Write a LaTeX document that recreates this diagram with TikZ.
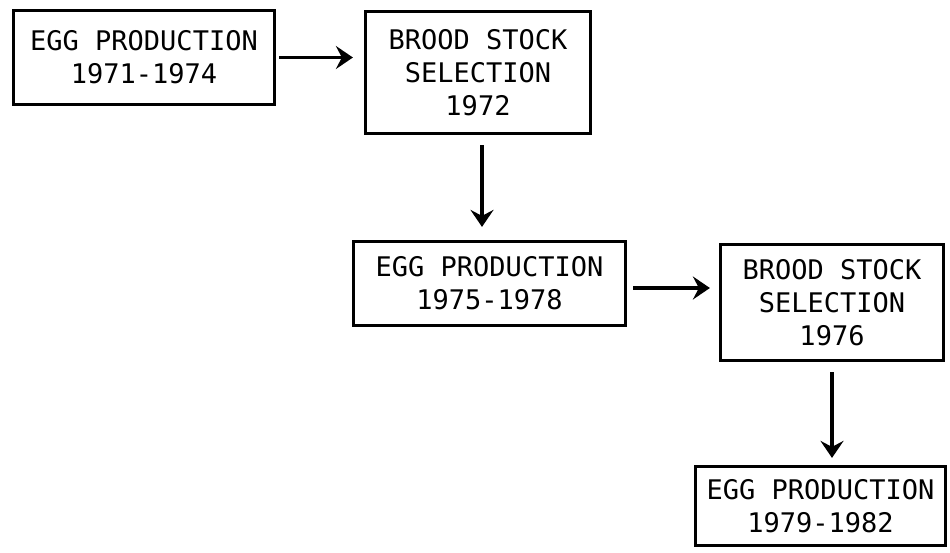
\documentclass[tikz,border=0pt]{standalone}
\usepackage{fontspec}
\setmonofont{DejaVu Sans Mono}
\usetikzlibrary{arrows.meta}
\begin{document}
\begin{tikzpicture}[x=1pt,y=-1pt,
  box/.style={draw, line width=3.2pt, inner sep=0pt, align=center,
    font=\ttfamily\fontsize{27}{33}\selectfont},
  flow/.style={line width=3.6pt, -{Stealth[length=17pt,width=23pt,inset=6pt]}}]
\useasboundingbox[fill=white] (0,0) rectangle (950,552);
\node[box, minimum width=261pt, minimum height=94pt] (e1) at (144,57.5) {EGG PRODUCTION\\1971-1974};
\node[box, minimum width=225pt, minimum height=122pt] (s1) at (478,72.5) {BROOD STOCK\\SELECTION\\1972};
\node[box, minimum width=272pt, minimum height=84pt] (e2) at (489.5,283.5) {EGG PRODUCTION\\1975-1978};
\node[box, minimum width=223pt, minimum height=116pt] (s2) at (832,302.5) {BROOD STOCK\\SELECTION\\1976};
\node[box, minimum width=250pt, minimum height=79pt] (e3) at (820.5,506) {EGG PRODUCTION\\1979-1982};
\draw[flow, shorten <=3pt, shorten >=11pt] (e1.east) -- (e1.east -| s1.west);
\draw[flow, shorten <=10pt, shorten >=13pt] ([xshift=4pt]s1.south) -- ([xshift=4pt]s1.south |- e2.north);
\draw[flow, shorten <=6pt, shorten >=9pt] ([yshift=-4.5pt]e2.east) -- ([yshift=-4.5pt]e2.east -| s2.west);
\draw[flow, shorten <=10pt, shorten >=7pt] (s2.south) -- (s2.south |- e3.north);
\end{tikzpicture}
\end{document}
